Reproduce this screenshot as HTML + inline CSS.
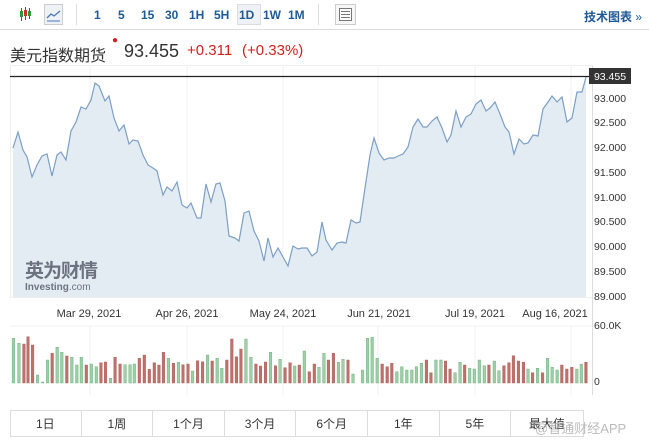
<!DOCTYPE html>
<html><head><meta charset="utf-8"><style>
body{margin:0;width:649px;height:444px;background:#fff;overflow:hidden;font-family:"Liberation Sans","Noto Sans CJK SC",sans-serif;position:relative}
.a{position:absolute;white-space:nowrap}
.tb{font-size:12px;font-weight:bold;color:#1f5a96;top:8px}
.cell{position:absolute;top:411px;height:26px;width:71.6px;border-right:1px solid #ddd;box-sizing:border-box;text-align:center;line-height:26px;font-size:12px;color:#333}
</style></head><body>
<svg class="a" style="left:0;top:0" width="649" height="30">
<g stroke="#555" stroke-width="1"><line x1="21.5" y1="8" x2="21.5" y2="21"/><line x1="25.5" y1="7" x2="25.5" y2="20"/><line x1="29.5" y1="8" x2="29.5" y2="19"/></g>
<rect x="20" y="11" width="3" height="6" fill="#2a9a3a"/><rect x="24" y="10" width="3" height="6" fill="#d03030"/><rect x="28" y="11" width="3" height="5" fill="#2a9a3a"/>
<rect x="44.5" y="4.5" width="18" height="20" fill="#eef2f7" stroke="#ccc"/>
<polyline points="47,18 51,14 54,16 60,11" fill="none" stroke="#4a78b0" stroke-width="1.3"/>
<line x1="47" y1="21" x2="60" y2="21" stroke="#4a78b0"/>
<line x1="76.5" y1="4" x2="76.5" y2="25" stroke="#ddd"/>
<rect x="237.5" y="4.5" width="23" height="20" fill="#eef2f7" stroke="#ddd"/>
<line x1="318.5" y1="4" x2="318.5" y2="25" stroke="#ddd"/>
<rect x="335.5" y="4.5" width="20" height="20" fill="#f6f6f6" stroke="#ccc"/>
<rect x="339.5" y="8.5" width="12" height="12" fill="#fff" stroke="#777"/>
<g stroke="#777"><line x1="341" y1="11.5" x2="350" y2="11.5"/><line x1="341" y1="14.5" x2="350" y2="14.5"/><line x1="341" y1="17.5" x2="350" y2="17.5"/></g>
<line x1="0" y1="29.5" x2="649" y2="29.5" stroke="#ddd"/>
</svg>
<span class="a tb" style="left:94px">1</span>
<span class="a tb" style="left:118px">5</span>
<span class="a tb" style="left:141px">15</span>
<span class="a tb" style="left:165px">30</span>
<span class="a tb" style="left:189px">1H</span>
<span class="a tb" style="left:214px">5H</span>
<span class="a tb" style="left:239px">1D</span>
<span class="a tb" style="left:263px">1W</span>
<span class="a tb" style="left:288px">1M</span>
<span class="a tb" style="left:584px">技术图表 <span style="font-weight:normal">»</span></span>
<span class="a" style="left:10px;top:42px;font-size:16px;color:#333">美元指数期货</span>
<span class="a" style="left:112px;top:35px;color:#d02020;font-size:10px">●</span>
<span class="a" style="left:124px;top:41px;font-size:18px;color:#333">93.455</span>
<span class="a" style="left:187px;top:42px;font-size:15px;color:#d02020">+0.311</span>
<span class="a" style="left:242px;top:42px;font-size:15px;color:#d02020">(+0.33%)</span>
<svg class="a" style="left:0;top:0" width="649" height="444" id="ch">
<rect x="10.5" y="65.5" width="582" height="232" fill="#fff" stroke="#eee"/>
<g stroke="#f0f0f0"><line x1="90" y1="66" x2="90" y2="297"/><line x1="187" y1="66" x2="187" y2="297"/><line x1="283" y1="66" x2="283" y2="297"/><line x1="378" y1="66" x2="378" y2="297"/><line x1="475" y1="66" x2="475" y2="297"/><line x1="571" y1="66" x2="571" y2="297"/>
<line x1="90" y1="326" x2="90" y2="395"/><line x1="187" y1="326" x2="187" y2="395"/><line x1="283" y1="326" x2="283" y2="395"/><line x1="378" y1="326" x2="378" y2="395"/><line x1="475" y1="326" x2="475" y2="395"/><line x1="571" y1="326" x2="571" y2="395"/>
<line x1="10" y1="326" x2="592" y2="326"/></g>
<path id="ar" fill="#e4ecf3" stroke="none"/>
<polyline id="ln" fill="none" stroke="#7b9fc6" stroke-width="1.2"/>
<line x1="10" y1="76.5" x2="590" y2="76.5" stroke="#222" stroke-width="1.2"/>
<line x1="592.5" y1="66" x2="592.5" y2="395" stroke="#ddd"/>
<rect x="589" y="68" width="42" height="16" fill="#333"/>
<text x="610" y="80" fill="#fff" font-size="10.5" text-anchor="middle" font-family="Liberation Sans">93.455</text>
<g font-size="10.5" fill="#333" font-family="Liberation Sans">
<text x="594" y="102">93.000</text><text x="594" y="126">92.500</text><text x="594" y="151">92.000</text><text x="594" y="176">91.500</text><text x="594" y="201">91.000</text><text x="594" y="225">90.500</text><text x="594" y="250">90.000</text><text x="594" y="275">89.500</text><text x="594" y="300">89.000</text>
<text x="594" y="329">60.0K</text><text x="594" y="385">0</text>
</g>
<g font-size="11" fill="#333" font-family="Liberation Sans" text-anchor="middle">
<text x="89" y="317">Mar 29, 2021</text><text x="187" y="317">Apr 26, 2021</text><text x="283" y="317">May 24, 2021</text><text x="379" y="317">Jun 21, 2021</text><text x="475" y="317">Jul 19, 2021</text><text x="555" y="317">Aug 16, 2021</text>
</g>
<text x="25" y="277" font-size="19" font-weight="bold" fill="#6b7280" font-family="Noto Sans CJK SC,sans-serif" letter-spacing="-1">英为财情</text>
<text x="25" y="290" font-size="10" font-weight="bold" fill="#6b7280" font-family="Liberation Sans">Investing<tspan font-weight="normal">.com</tspan></text>
<g id="vb"></g>
</svg>
<div class="a" style="left:10px;top:410px;width:574px;height:27px;border:1px solid #ddd;box-sizing:border-box"></div>
<div class="cell" style="left:10px">1日</div><div class="cell" style="left:81.6px">1周</div><div class="cell" style="left:153.2px">1个月</div><div class="cell" style="left:224.8px">3个月</div><div class="cell" style="left:296.4px">6个月</div><div class="cell" style="left:368px">1年</div><div class="cell" style="left:439.6px">5年</div><div class="cell" style="left:511.2px;border-right:none">最大值</div>
<span class="a" style="left:535px;top:418px;font-size:13px;color:#bbb">@智通财经APP</span>
<script>
var p=[[13,148],[18,132],[23,150],[27,157],[32,177],[37,165],[42,156],[47,154],[52,176],[57,155],[61,152],[66,160],[71,131],[76,122],[81,107],[86,109],[91,100],[95,83],[99,86],[105,101],[109,96],[114,118],[119,131],[124,125],[129,144],[133,140],[138,141],[143,155],[148,165],[153,168],[157,171],[163,195],[167,187],[172,191],[177,182],[182,205],[187,208],[191,203],[197,218],[201,218],[206,184],[211,202],[216,184],[220,183],[225,201],[229,236],[235,238],[239,241],[244,213],[249,211],[254,231],[259,241],[264,261],[268,238],[273,257],[278,248],[283,257],[288,266],[293,246],[298,249],[302,248],[307,248],[312,256],[317,252],[322,222],[326,240],[332,250],[337,243],[342,242],[346,243],[351,220],[356,223],[360,222],[365,188],[370,155],[374,138],[379,153],[384,160],[389,158],[394,158],[398,156],[403,154],[408,147],[413,127],[418,119],[423,127],[427,127],[432,121],[437,117],[442,128],[447,142],[451,135],[456,111],[461,127],[466,117],[471,114],[476,104],[481,100],[486,111],[490,108],[495,102],[500,114],[505,127],[509,132],[514,154],[519,139],[524,144],[528,143],[533,135],[538,136],[543,109],[548,102],[552,96],[557,102],[562,97],[567,122],[572,118],[577,92],[582,92],[586,77]];
var s=p.map(function(a){return a.join(',')}).join(' ');
document.getElementById('ln').setAttribute('points',s);
document.getElementById('ar').setAttribute('d','M13,297 L'+s.replace(/ /g,' L')+' L586,297Z');
var v="32g55 45g70 57r72 67r50 78r75 90g165 102g186 114g120 125r100 137g82 148g97 160r108 172g112 184g135 195g112 207r135 219g132 231g140 242r128 253r126 265g175 276r112 288r132 300g134 312g134 322g132 334r115 346r105 358r148 370r128 381r135 392r97 404g115 416r130 428g127 439r134 451r132 462g153 474r122 486r125 498g105 509r123 521g115 532g145 544r120 556r57 567r110 578r87 590g57 602g112 614r132 625r138 637r126 649g97 661r137 672g118 684r143 696r128 707g138 718r135 730g93 742r155 754r132 765g142 777g100 788r120 800r100 812g127 823g118 835r120 847g162 870g150 882g55 893g52 905g115 917r132 929r140 940r130 952g155 964g140 976g150 988g150 999g140 1011g130 1023r120 1034r158 1046g120 1058g120 1069r123 1080r147 1092g158 1104g127 1115r135 1127g145 1138g147 1150g120 1162g137 1173r135 1186g123 1197g152 1209r137 1221r128 1232r107 1244r123 1256r127 1267g147 1278r158 1290g145 1302r158 1314g115 1325g142 1337g150 1348r135 1360r147 1372r142 1384g147 1395g132 1406r127";
var h='';v.split(' ').forEach(function(t){var m=t.match(/(\d+)([gr])(\d+)/);var x=+m[1]/2.4,top=320+m[3]/3;
h+='<rect x="'+(x-1.2).toFixed(1)+'" y="'+top.toFixed(1)+'" width="2.6" height="'+(383-top).toFixed(1)+'" fill="'+(m[2]=='g'?'#9ccfa6':'#c0706a')+'" stroke="'+(m[2]=='g'?'#6aa878':'#a55a55')+'" stroke-width="0.4"/>';});
document.getElementById('vb').innerHTML=h;
</script>
</body></html>
